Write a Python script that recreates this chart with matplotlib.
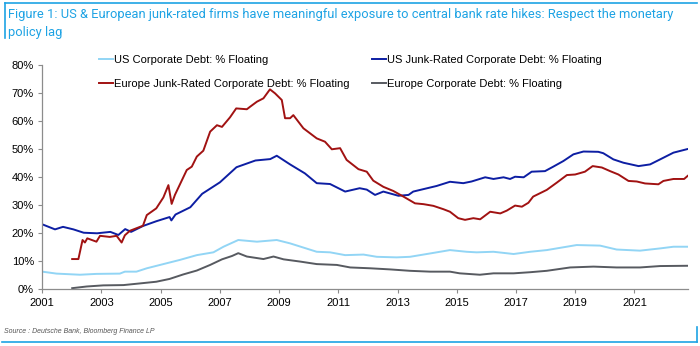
import matplotlib.pyplot as plt
from matplotlib.lines import Line2D
from matplotlib.ticker import FuncFormatter

plt.rcParams["font.family"] = ["Liberation Sans", "DejaVu Sans"]

# US junk-rated corporate debt, % floating
us_junk_t = [2001.0, 2001.43, 2001.7, 2002.05, 2002.4, 2002.85, 2003.3, 2003.57, 2003.8,
             2004.0, 2004.4, 2004.85, 2005.3, 2005.36, 2005.5, 2006.0, 2006.4, 2007.0,
             2007.56, 2008.2, 2008.7, 2008.92, 2009.37, 2009.87, 2010.27, 2010.72,
             2011.23, 2011.72, 2011.96, 2012.24, 2012.52, 2013.03, 2013.37, 2013.53,
             2014.32, 2014.77, 2015.22, 2015.5, 2015.96, 2016.24, 2016.58, 2016.8,
             2016.97, 2017.26, 2017.53, 2017.98, 2018.26, 2018.6, 2018.94, 2019.28,
             2019.78, 2019.95, 2020.29, 2020.63, 2021.14, 2021.53, 2021.87, 2022.32, 2022.8]
us_junk_v = [23.2, 21.4, 22.3, 21.4, 20.2, 20.0, 20.5, 19.4, 21.5,
             20.5, 22.6, 24.3, 25.8, 24.6, 26.7, 29.3, 34.1, 38.2,
             43.6, 46.0, 46.5, 47.7, 44.6, 41.4, 37.9, 37.6,
             34.9, 36.1, 35.6, 33.7, 34.9, 33.4, 33.7, 34.9,
             36.9, 38.4, 37.9, 38.5, 40.0, 39.4, 40.0, 39.4,
             40.2, 40.0, 42.0, 42.2, 43.8, 45.8, 48.2, 49.2,
             49.1, 48.6, 46.4, 45.2, 44.0, 44.6, 46.4, 48.8, 50.1]

# Europe junk-rated corporate debt, % floating
eu_junk_t = [2002.01, 2002.22, 2002.36, 2002.44, 2002.52, 2002.83, 2002.95, 2003.28,
             2003.51, 2003.68, 2003.79, 2003.96, 2004.4, 2004.53, 2004.85, 2005.09,
             2005.26, 2005.37, 2005.48, 2005.88, 2006.05, 2006.22, 2006.44, 2006.67,
             2006.9, 2007.07, 2007.34, 2007.55, 2007.91, 2008.02, 2008.25, 2008.47,
             2008.69, 2008.86, 2009.09, 2009.2, 2009.37, 2009.48, 2009.82, 2010.27,
             2010.55, 2010.78, 2011.06, 2011.28, 2011.68, 2011.96, 2012.18, 2012.52,
             2012.86, 2013.2, 2013.59, 2013.88, 2014.21, 2014.55, 2014.77, 2015.05,
             2015.28, 2015.56, 2015.79, 2016.13, 2016.47, 2016.69, 2016.97, 2017.2,
             2017.42, 2017.58, 2018.04, 2018.38, 2018.72, 2019.0, 2019.33, 2019.59,
             2019.9, 2020.18, 2020.46, 2020.8, 2021.08, 2021.36, 2021.81, 2021.98,
             2022.32, 2022.68, 2022.8]
eu_junk_v = [10.8, 10.8, 17.6, 16.7, 18.2, 17.0, 19.1, 18.7,
             19.1, 16.7, 19.3, 20.9, 22.7, 26.5, 28.9, 32.8,
             37.2, 30.5, 33.7, 42.6, 43.8, 47.4, 49.5, 56.3,
             58.6, 58.0, 61.4, 64.6, 64.3, 65.2, 67.0, 68.2,
             71.4, 70.0, 67.6, 61.1, 61.1, 62.2, 57.5, 53.9,
             52.7, 50.0, 50.4, 46.2, 42.9, 42.0, 38.8, 36.6,
             35.1, 33.1, 30.7, 30.4, 29.8, 28.6, 27.7, 25.4,
             24.8, 25.4, 25.0, 27.7, 27.1, 28.1, 29.9, 29.5,
             30.9, 33.1, 35.5, 38.1, 40.8, 41.0, 42.0, 44.0,
             43.5, 42.2, 41.0, 38.7, 38.5, 37.8, 37.5, 38.7,
             39.4, 39.4, 40.5]

# US corporate debt, % floating
us_corp_t = [2001.0, 2001.48, 2002.27, 2002.83, 2003.62, 2003.79, 2004.18, 2004.53,
             2005.09, 2005.65, 2006.22, 2006.78, 2007.12, 2007.62, 2008.25, 2008.92,
             2009.37, 2010.27, 2010.72, 2011.23, 2011.85, 2012.3, 2012.97, 2013.42,
             2014.1, 2014.77, 2015.33, 2015.67, 2016.24, 2016.92, 2017.48, 2018.04,
             2018.6, 2019.05, 2019.84, 2020.4, 2021.19, 2021.87, 2022.32, 2022.8]
us_corp_v = [6.3, 5.6, 5.2, 5.5, 5.6, 6.3, 6.3, 7.5,
             9.0, 10.5, 12.2, 13.2, 15.2, 17.6, 17.0, 17.6,
             16.4, 13.4, 13.2, 12.2, 12.4, 11.6, 11.4, 11.6,
             12.8, 14.0, 13.4, 13.2, 13.4, 12.6, 13.4, 14.0,
             15.0, 15.8, 15.6, 14.2, 13.8, 14.6, 15.2, 15.2]

# Europe corporate debt, % floating
eu_corp_t = [2002.01, 2002.5, 2003.06, 2003.74, 2004.3, 2004.85, 2005.3, 2005.76,
             2006.22, 2006.67, 2007.07, 2007.41, 2007.62, 2007.91, 2008.47, 2008.81,
             2009.15, 2009.71, 2010.27, 2010.95, 2011.4, 2012.08, 2012.75, 2013.42,
             2014.1, 2014.77, 2015.1, 2015.78, 2016.24, 2016.92, 2017.48, 2018.04,
             2018.83, 2019.62, 2020.4, 2021.19, 2021.87, 2022.8]
eu_corp_v = [0.4, 1.0, 1.4, 1.5, 2.1, 2.7, 3.7, 5.3,
             6.7, 8.7, 10.7, 11.9, 12.9, 11.7, 10.8, 11.7,
             10.7, 9.9, 9.0, 8.7, 7.8, 7.5, 7.1, 6.6,
             6.3, 6.3, 5.7, 5.2, 5.7, 5.7, 6.1, 6.6,
             7.8, 8.1, 7.8, 7.8, 8.3, 8.4]

year_ticks = list(range(2001, 2023, 2))
pct_ticks = list(range(0, 81, 10))

c_us_corp = "#92d5f5"
c_us_junk = "#0d1ea3"
c_eu_junk = "#a11212"
c_eu_corp = "#575a60"
c_frame = "#1ea3e4"

fig = plt.figure(figsize=(7.0, 3.46), dpi=100)
ax = fig.add_axes([0.0604, 0.1639, 0.922, 0.6474])

ax.plot(us_corp_t, us_corp_v, color=c_us_corp, lw=1.4)
ax.plot(eu_corp_t, eu_corp_v, color=c_eu_corp, lw=1.4)
ax.plot(us_junk_t, us_junk_v, color=c_us_junk, lw=1.4)
ax.plot(eu_junk_t, eu_junk_v, color=c_eu_junk, lw=1.4)

ax.set_xlim(2001, 2022.8)
ax.set_ylim(0, 80)
ax.set_xticks(year_ticks)
ax.set_yticks(pct_ticks)
ax.yaxis.set_major_formatter(FuncFormatter(lambda v, p: f"{v:.0f}%"))
for s in ["top", "right"]:
    ax.spines[s].set_visible(False)
for s in ["left", "bottom"]:
    ax.spines[s].set_color("#8c8c8c")
    ax.spines[s].set_linewidth(0.9)
ax.tick_params(axis="both", colors="#8c8c8c", labelcolor="black", length=3,
               width=0.8, labelsize=8, pad=3)

handles = [Line2D([], [], color=c_us_corp, lw=1.4),
           Line2D([], [], color=c_eu_junk, lw=1.4),
           Line2D([], [], color=c_us_junk, lw=1.4),
           Line2D([], [], color=c_eu_corp, lw=1.4)]
labels = ["US Corporate Debt: % Floating",
          "Europe Junk-Rated Corporate Debt: % Floating",
          "US Junk-Rated Corporate Debt: % Floating",
          "Europe Corporate Debt: % Floating"]
fig.legend(handles, labels, ncol=2, loc="upper left", bbox_to_anchor=(0.134, 0.856),
           frameon=False, fontsize=8, handlelength=1.25, handletextpad=0.1,
           columnspacing=2.0, labelspacing=1.2, borderpad=0)

fig.text(0.012, 0.957, "Figure 1: US & European junk-rated firms have meaningful exposure "
         "to central bank rate hikes: Respect the monetary", color=c_frame,
         fontsize=9.25, family="Roboto", va="center")
fig.text(0.012, 0.905, "policy lag", color=c_frame, fontsize=9.25, family="Roboto", va="center")
fig.text(0.005, 0.043, "Source : Deutsche Bank, Bloomberg Finance LP", color="#555555",
         fontsize=5, style="italic", va="center")

# Blue frame pieces around the figure
fig.add_artist(Line2D([0.007, 0.996], [0.991, 0.991], color=c_frame, lw=1.2))
fig.add_artist(Line2D([0.007, 0.007], [0.991, 0.89], color=c_frame, lw=1.2))
fig.add_artist(Line2D([0.003, 0.996], [0.011, 0.011], color=c_frame, lw=1.2))
fig.add_artist(Line2D([0.996, 0.996], [0.011, 0.055], color=c_frame, lw=1.2))

fig.savefig("out.png", dpi=100)
